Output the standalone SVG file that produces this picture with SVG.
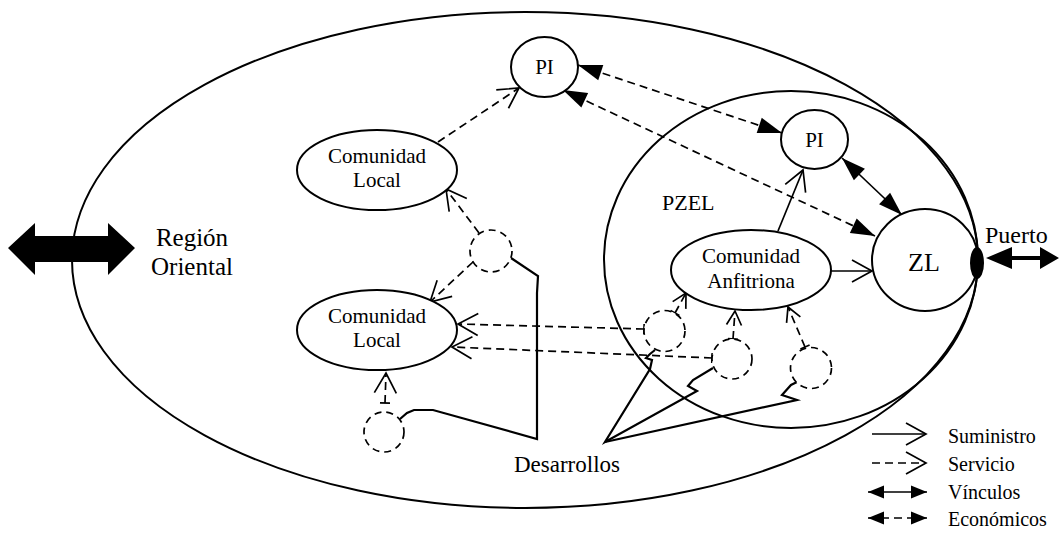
<svg xmlns="http://www.w3.org/2000/svg" width="1059" height="535" viewBox="0 0 1059 535">
<style>
.ln{fill:none;stroke:#000;stroke-width:1.7}
.dash{fill:none;stroke:#000;stroke-width:1.7;stroke-dasharray:8,5}
.sq{fill:none;stroke:#000;stroke-width:2.2;stroke-linejoin:miter}
.node{fill:#fff;stroke:#000;stroke-width:2}
.area{fill:none;stroke:#000;stroke-width:2}
.svc{fill:#fff;stroke:#000;stroke-width:1.7;stroke-dasharray:7,5}
text{font-family:"Liberation Serif","Times New Roman",serif;fill:#000}
.t21{font-size:21px;text-anchor:middle}
</style>
<defs>
<marker id="open" markerUnits="userSpaceOnUse" markerWidth="40" markerHeight="40" viewBox="-30 -20 40 40" refX="0" refY="0" orient="auto" overflow="visible"><path d="M-20,-11 L0,0 L-20,11" fill="none" stroke="#000" stroke-width="1.7" stroke-dasharray="none"/></marker>
<marker id="openS" markerUnits="userSpaceOnUse" markerWidth="30" markerHeight="30" viewBox="-20 -15 30 30" refX="0" refY="0" orient="auto" overflow="visible"><path d="M-14,-7.5 L0,0 L-14,7.5" fill="none" stroke="#000" stroke-width="1.7" stroke-dasharray="none"/></marker>
<marker id="fill" markerUnits="userSpaceOnUse" markerWidth="40" markerHeight="40" viewBox="-30 -20 40 40" refX="0" refY="0" orient="auto-start-reverse" overflow="visible"><path d="M-24,-8 L0,0 L-24,8 Z" fill="#000" stroke="none"/></marker>
<marker id="fillS" markerUnits="userSpaceOnUse" markerWidth="30" markerHeight="30" viewBox="-20 -15 30 30" refX="0" refY="0" orient="auto-start-reverse" overflow="visible"><path d="M-16,-6.5 L0,0 L-16,6.5 Z" fill="#000" stroke="none"/></marker>
<marker id="tick" markerUnits="userSpaceOnUse" markerWidth="20" markerHeight="20" viewBox="-10 -10 20 20" refX="0" refY="0" orient="auto" overflow="visible"><path d="M0,-5 L0,5" stroke="#000" stroke-width="1.7" stroke-dasharray="none"/></marker>
</defs>
<rect width="1059" height="535" fill="#fff"/>

<g id="region-oriental">
<ellipse class="area" cx="525" cy="260" rx="453" ry="248"/>
<path d="M8,248 L35,223 L35,236 L108,236 L108,223 L135,248 L108,275 L108,262 L35,262 L35,275 Z" fill="#000"/>
<text x="192" y="246" font-size="25" text-anchor="middle">Región</text>
<text x="192" y="275" font-size="25" text-anchor="middle">Oriental</text>
</g>

<g id="pzel">
<ellipse class="area" cx="791" cy="259.5" rx="187" ry="168.5"/>
<text x="662" y="210" font-size="22">PZEL</text>
</g>

<g id="connectors">
<line class="dash" x1="578" y1="65" x2="782" y2="133" marker-start="url(#fill)" marker-end="url(#fill)"/>
<line class="dash" x1="563" y1="90" x2="875" y2="236" marker-start="url(#fill)" marker-end="url(#fill)"/>
<line class="ln" x1="842" y1="158" x2="902" y2="215" marker-start="url(#fill)" marker-end="url(#fill)"/>
<line class="ln" x1="778" y1="231" x2="803" y2="170" marker-end="url(#open)"/>
<line class="ln" x1="831" y1="271" x2="872" y2="271" marker-end="url(#open)"/>
<line class="dash" x1="438" y1="142" x2="519" y2="88" marker-end="url(#open)"/>
<line class="dash" x1="479" y1="233" x2="446" y2="189" marker-end="url(#open)"/>
<line class="dash" x1="473" y1="262" x2="430" y2="302" marker-end="url(#open)"/>
<line class="dash" x1="385" y1="403" x2="386" y2="373" marker-start="url(#tick)" marker-end="url(#open)"/>
<line class="dash" x1="644" y1="329" x2="458" y2="324" marker-start="url(#tick)" marker-end="url(#open)"/>
<line class="dash" x1="712" y1="358" x2="452" y2="347" marker-start="url(#tick)" marker-end="url(#open)"/>
<line class="dash" x1="675" y1="313" x2="686" y2="293" marker-start="url(#tick)" marker-end="url(#openS)"/>
<line class="dash" x1="733" y1="339" x2="735" y2="311" marker-start="url(#tick)" marker-end="url(#openS)"/>
<line class="dash" x1="805" y1="347" x2="788" y2="307" marker-start="url(#tick)" marker-end="url(#openS)"/>
<polyline class="sq" points="400,419 407,413 414,410 433,410 537,439 537,293 538,276 511,258"/>
<polyline class="sq" points="655,350 650,354 646,358 652,360 650,369 605,442 697,391 688,386 693,380 713,368"/>
<polyline class="sq" points="605,442 797,400 782,395 791,385 797,382"/>
</g>

<g id="pi-top">
<ellipse class="node" cx="544.5" cy="67" rx="33.5" ry="30"/>
<text class="t21" x="544.5" y="74">PI</text>
</g>
<g id="pi-pzel">
<ellipse class="node" cx="814.5" cy="139.5" rx="33.5" ry="29.5"/>
<text class="t21" x="814.5" y="147">PI</text>
</g>
<g id="zl">
<ellipse class="node" cx="925" cy="260" rx="53" ry="51"/>
<text x="924" y="271" font-size="26" text-anchor="middle">ZL</text>
</g>
<g id="puerto">
<ellipse cx="977" cy="263" rx="7" ry="16" fill="#000"/>
<path d="M986,258 L1012,247 L1012,256 L1040,256 L1040,247 L1059,258 L1040,269 L1040,260 L1012,260 L1012,269 Z" fill="#000"/>
<text x="985" y="243" font-size="24">Puerto</text>
</g>
<g id="comunidad-anfitriona">
<ellipse class="node" cx="751" cy="270" rx="80" ry="40"/>
<text class="t21" x="751" y="263">Comunidad</text>
<text class="t21" x="751" y="288">Anfitriona</text>
</g>
<g id="comunidad-local-1">
<ellipse class="node" cx="377" cy="170" rx="80" ry="40"/>
<text class="t21" x="377" y="163">Comunidad</text>
<text class="t21" x="377" y="187">Local</text>
</g>
<g id="comunidad-local-2">
<ellipse class="node" cx="377" cy="330" rx="80" ry="40"/>
<text class="t21" x="377" y="323">Comunidad</text>
<text class="t21" x="377" y="347">Local</text>
</g>
<g id="desarrollo-a"><circle class="svc" cx="491" cy="251" r="21"/></g>
<g id="desarrollo-b"><circle class="svc" cx="384" cy="432" r="20"/></g>
<g id="desarrollo-c"><circle class="svc" cx="664.5" cy="331" r="20.5"/></g>
<g id="desarrollo-d"><circle class="svc" cx="732" cy="359" r="20"/></g>
<g id="desarrollo-e"><circle class="svc" cx="811" cy="368" r="20.5"/></g>
<g id="desarrollos-label">
<text x="567" y="472" font-size="23" text-anchor="middle">Desarrollos</text>
</g>

<g id="legend">
<line class="ln" x1="872" y1="434" x2="926" y2="434" marker-end="url(#open)"/>
<line class="dash" x1="872" y1="463" x2="926" y2="463" marker-end="url(#open)"/>
<line class="ln" x1="868" y1="492" x2="927" y2="492" marker-start="url(#fillS)" marker-end="url(#fillS)"/>
<line class="dash" x1="868" y1="518" x2="927" y2="518" marker-start="url(#fillS)" marker-end="url(#fillS)"/>
<text x="948" y="443" font-size="20">Suministro</text>
<text x="948" y="471" font-size="20">Servicio</text>
<text x="948" y="499" font-size="20">Vínculos</text>
<text x="948" y="526" font-size="20">Económicos</text>
</g>
</svg>
